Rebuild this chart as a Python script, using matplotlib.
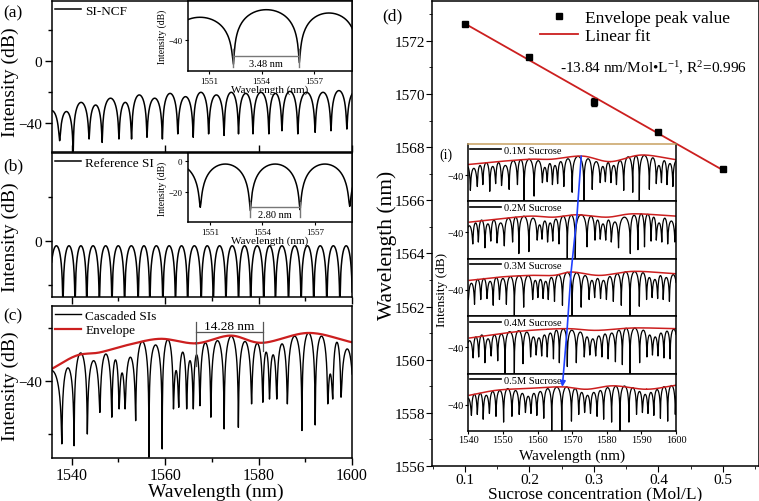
import numpy as np
import matplotlib
matplotlib.use('Agg')
import matplotlib.pyplot as plt
from matplotlib.lines import Line2D
from matplotlib.patches import ConnectionPatch
from matplotlib.ticker import MultipleLocator

plt.rcParams['font.family'] = ['Liberation Serif', 'DejaVu Serif']
plt.rcParams['mathtext.fontset'] = 'custom'
plt.rcParams['mathtext.rm'] = 'Liberation Serif'
plt.rcParams['mathtext.it'] = 'Liberation Serif:italic'
plt.rcParams['axes.linewidth'] = 1.1

# ---------------- data ----------------
# (a) SI-NCF: dip wavelengths, dip levels, peak levels between consecutive dips
a_dip_wl = [1534.0, 1537.4, 1540.3, 1543.7, 1546.5, 1550.1, 1552.8, 1556.1, 1559.4, 1562.7, 1566.0,
            1569.3, 1572.6, 1575.7, 1578.8, 1582.2, 1585.0, 1588.4, 1592.1, 1595.5, 1598.9, 1602.3]
a_dip_db = [-50, -51.4, -60, -50.3, -52.5, -50.3, -50.3, -49.2, -50.3, -47, -49.2,
            -47, -48, -47, -47, -47, -45, -47, -46, -45, -43.9, -45]
a_peak_db = [-32, -32.6, -26.7, -28.4, -24.0, -26.7, -21.9, -24.0, -20.9, -23.0, -20.2,
             -21.9, -20.2, -20.9, -20.2, -20.9, -19.6, -20.2, -20.2, -19.1, -20.0]
# inset of (a)
ai_dip_wl = [1548.6, 1552.40, 1556.14, 1559.5]
ai_dip_db = [-55, -55.5, -54.5, -55]
ai_peak_db = [-25.8, -21.0, -23.1]

# (b) Reference SI
b_dip_wl = [1532.6, 1535.3, 1538.1, 1540.7, 1543.2, 1545.9, 1548.6, 1551.3, 1554.2, 1556.7, 1559.5, 1562.2,
            1564.8, 1567.7, 1570.3, 1573.0, 1575.7, 1578.3, 1581.1, 1583.6, 1586.4, 1589.1,
            1591.8, 1594.6, 1597.4, 1600.1]
b_dip_db = [-30] * len(b_dip_wl)
b_peak_db = [-2.3] * (len(b_dip_wl) - 1)
# inset of (b)
bi_dip_wl = [1547.6, 1550.46, 1553.31, 1556.14, 1558.97, 1561.8]
bi_dip_db = [-30, -29.5, -31.6, -31.0, -28.9, -30]
bi_peak_db = [-2.1, -2.1, -2.1, -2.1, -2.1]

# (c) Cascaded SIs
c_dip_wl = [1533.5, 1537.87, 1540.49, 1543.33, 1546.02, 1548.57, 1550.13, 1551.41, 1553.68, 1556.52,
            1559.36, 1561.77, 1562.90, 1564.60, 1566.02, 1567.44, 1569.78, 1572.62, 1575.67, 1578.50,
            1580.91, 1582.33, 1583.89, 1586.16, 1589.28, 1592.12, 1594.81, 1595.88, 1597.65, 1600.3]
c_dip_db = [-55, -63.6, -64.3, -59.9, -51.8, -53.6, -50.5, -50.5, -54.9, -68.6,
            -65.5, -50.5, -49.9, -50.5, -50.5, -49.3, -53.6, -58.0, -57.4, -48.6,
            -48.0, -46.8, -46.8, -48.6, -58.6, -56.5, -48.6, -46.8, -46.1, -45.5]
c_peak_db = [-36.1, -35.1, -29.5, -32.4, -29.9, -32.1, -37.0, -31.1, -25.2, -26.5,
             -24.5, -36.1, -29.2, -32.4, -30.2, -25.7, -24.9, -23.2, -25.2, -25.9,
             -29.2, -30.2, -26.1, -23.2, -22.0, -23.2, -37.4, -25.5, -28.0]
c_env_wl = [1535.4, 1541.0, 1546.0, 1552.0, 1559.0, 1566.6, 1574.0, 1580.8, 1590.7, 1600.0]
c_env_db = [-35.8, -30.5, -29.3, -26.5, -24.2, -25.9, -23.0, -25.7, -22.0, -25.5]

# (d) envelope peak vs sucrose concentration
conc = [0.1, 0.2, 0.3, 0.4, 0.5]
peak_wl = [1572.63, 1571.41, 1569.69, 1568.56, 1567.16]
peak_err = [0.06, 0.06, 0.15, 0.08, 0.06]
inset_labels = ['0.1M Sucrose', '0.2M Sucrose', '0.3M Sucrose', '0.4M Sucrose', '0.5M Sucrose']

# (i) spectra for each sucrose level
s1_dip_wl = [1538.2, 1540.6, 1542.6, 1544.2, 1546.2, 1547.9, 1549.6, 1551.8, 1554.2, 1556.1, 1559.0, 1561.4,
             1562.8, 1564.3, 1565.8, 1567.6, 1570.0, 1573.4, 1575.8, 1578.1, 1579.6, 1581.2, 1582.8,
             1584.9, 1587.5, 1589.4, 1592.3, 1594.3, 1595.8, 1597.4, 1599.1, 1601.2]
s1_dip_db = [-50, -56, -52, -50, -57, -49, -51, -55, -50, -67.6, -62, -48, -47, -50, -49, -52, -58,
             -67.6, -55, -48, -47, -48, -50, -56, -58, -67.6, -55, -49, -48, -50, -52, -50]
s1_peak_db = [-29, -33, -30, -27, -31, -27, -30, -25, -24, -23.5, -25, -32, -28, -30, -26, -23, -20.5,
              -23, -26, -31, -27, -30, -25, -21, -20, -19.5, -22, -30, -25, -28, -25]
s1_env_wl = [1540, 1548.5, 1557.8, 1564.0, 1572.9, 1581.0, 1590.0, 1600]
s1_env_db = [-29, -26, -23.5, -23.5, -20.2, -26, -19.1, -24.0]

s2_dip_wl = [1537.0, 1539.3, 1541.3, 1542.9, 1544.8, 1546.5, 1548.3, 1550.4, 1552.8, 1554.6, 1557.5, 1559.9,
             1561.3, 1562.9, 1564.4, 1566.2, 1568.6, 1570.9, 1574.3, 1576.6, 1578.1, 1579.7, 1581.3,
             1583.4, 1586.8, 1589.0, 1590.9, 1592.8, 1594.3, 1595.9, 1597.6, 1599.7, 1601.8]
s2_dip_db = [-50, -55, -52, -50, -56, -49, -51, -54, -50, -62, -60, -48, -47, -50, -49, -52, -67.6, -67.6,
             -55, -48, -47, -48, -50, -56, -62, -58, -55, -49, -48, -50, -52, -50, -50]
s2_peak_db = [-30, -33, -30, -27, -31, -27, -30, -25, -24, -23, -25, -32, -28, -30, -26, -23, -22, -21.5,
              -23, -27, -31, -27, -29, -24, -22, -20.5, -21, -24, -30, -25, -28, -24]
s2_env_wl = [1540.3, 1549.2, 1557.8, 1564.6, 1571.3, 1580.0, 1587.7, 1600]
s2_env_db = [-29.2, -25.7, -22.9, -24.0, -21.5, -24.0, -20.5, -22.9]

s3_dip_wl = [1537.8, 1540.0, 1541.8, 1543.6, 1545.4, 1547.2, 1549.0, 1551.0, 1553.3, 1556.0, 1558.6, 1560.1,
             1561.6, 1563.1, 1564.9, 1567.2, 1570.0, 1572.6, 1574.9, 1576.5, 1578.2, 1579.9, 1581.9,
             1584.2, 1586.7, 1589.4, 1591.5, 1593.1, 1594.7, 1596.3, 1598.1, 1600.3]
s3_dip_db = [-52, -50, -55, -50, -49, -56, -50, -55, -67.6, -58, -50, -48, -49, -50, -52, -56, -67.6,
             -58, -50, -48, -49, -50, -52, -56, -67.6, -57, -50, -48, -49, -50, -52, -50]
s3_peak_db = [-31, -33, -29, -28, -31, -27, -28, -26, -25, -25, -30, -29, -31, -27, -24, -21.5, -22,
              -25, -30, -28, -30, -26, -23, -21, -20.8, -22, -27, -29, -25, -27, -24]
s3_env_wl = [1540.3, 1549.2, 1557.8, 1564.6, 1570.0, 1578.0, 1587.7, 1600]
s3_env_db = [-30.0, -26.5, -24.8, -24.8, -21.3, -24.8, -20.6, -23.1]

s4_dip_wl = [1537.2, 1539.3, 1541.4, 1543.0, 1544.8, 1546.6, 1548.5, 1550.6, 1553.3, 1555.8, 1558.0, 1559.6,
             1561.2, 1562.8, 1564.6, 1566.3, 1568.6, 1571.2, 1573.5, 1575.1, 1576.8, 1578.6, 1580.4,
             1582.5, 1584.5, 1586.7, 1589.5, 1591.6, 1593.2, 1594.8, 1596.5, 1598.3, 1600.4]
s4_dip_db = [-50, -55, -51, -50, -56, -49, -54, -67.6, -67.6, -57, -50, -48, -49, -50, -52, -56, -60, -56,
             -50, -48, -49, -50, -52, -55, -58, -67.6, -56, -50, -48, -49, -51, -52, -50]
s4_peak_db = [-31, -33, -29, -27, -31, -27, -26, -23.5, -22.5, -24, -29, -30, -27, -25, -22, -20.6, -22,
              -24, -29, -31, -28, -26, -25, -22, -20, -19.8, -22, -27, -29, -25, -23, -21]
s4_env_wl = [1540.3, 1549.2, 1557.8, 1568.4, 1577.0, 1587.7, 1600]
s4_env_db = [-30.2, -25.7, -22.2, -20.4, -22.2, -19.7, -20.4]

s5_dip_wl = [1536.6, 1538.9, 1540.9, 1542.6, 1544.3, 1546.1, 1548.0, 1550.2, 1552.6, 1554.7, 1556.5, 1558.1,
             1559.8, 1561.8, 1564.1, 1567.0, 1569.8, 1571.9, 1573.6, 1575.3, 1577.2, 1579.1, 1581.4,
             1583.8, 1586.4, 1588.6, 1590.3, 1591.9, 1593.6, 1595.5, 1597.6, 1599.8, 1602.0]
s5_dip_db = [-50, -56, -51, -50, -55, -49, -52, -58, -52, -50, -48, -49, -51, -54, -67.6, -67.6, -57, -50,
             -48, -49, -52, -55, -58, -67.6, -58, -50, -48, -49, -51, -54, -57, -50, -50]
s5_peak_db = [-31, -33, -29, -28, -30, -26, -25, -23, -25, -28, -31, -28, -26, -23, -21.5, -21.2, -23,
              -27, -30, -27, -25, -22, -20.5, -20.3, -22, -26, -29, -27, -24, -21, -19.8, -21]
s5_env_wl = [1540.3, 1548.2, 1556.9, 1567.0, 1574.2, 1581.9, 1591.5, 1600]
s5_env_db = [-30.0, -24.7, -22.9, -21.2, -23.7, -20.1, -23.7, -19.5]

# ---------------- helpers ----------------
W, H = 759, 502


def fax(l, t, r, b):
    return [l / W, 1 - b / H, (r - l) / W, (b - t) / H]


def fringes(dip_wl, dip_db, peak_db, n=80):
    xs, ys = [], []
    for i in range(len(dip_wl) - 1):
        t = np.linspace(0, 1, n)
        s2 = np.sin(np.pi * t) ** 2
        p = peak_db[i]
        e = np.where(t < 0.5, 10 ** ((dip_db[i] - p) / 10), 10 ** ((dip_db[i + 1] - p) / 10))
        xs.append(dip_wl[i] + (dip_wl[i + 1] - dip_wl[i]) * t)
        ys.append(p + 10 * np.log10((1 - e) * s2 + e))
    return np.concatenate(xs), np.concatenate(ys)


def smooth(xk, yk, n=30):
    P = np.column_stack([np.asarray(xk, float), np.asarray(yk, float)])
    P = np.vstack([2 * P[0] - P[1], P, 2 * P[-1] - P[-2]])
    X, Y = [], []
    t = np.linspace(0, 1, n)[:, None]
    for i in range(1, len(P) - 2):
        p0, p1, p2, p3 = P[i - 1], P[i], P[i + 1], P[i + 2]
        c = 0.5 * (2 * p1 + (-p0 + p2) * t + (2 * p0 - 5 * p1 + 4 * p2 - p3) * t ** 2
                   + (-p0 + 3 * p1 - 3 * p2 + p3) * t ** 3)
        X.append(c[:, 0]); Y.append(c[:, 1])
    return np.concatenate(X), np.concatenate(Y)


RED = '#cc1f1f'
fig = plt.figure(figsize=(W / 100, H / 100), dpi=100)


def style_main(ax):
    ax.tick_params(which='both', direction='out', labelsize=11, pad=2)
    ax.tick_params(which='major', length=5, width=1)
    ax.tick_params(which='minor', length=3, width=1)
    ax.set_xlim(1535.7, 1600)
    ax.xaxis.set_major_locator(MultipleLocator(20))
    ax.xaxis.set_minor_locator(MultipleLocator(10))
    ax.yaxis.set_major_locator(MultipleLocator(40))
    ax.yaxis.set_minor_locator(MultipleLocator(20))


LEG = dict(loc='upper left', frameon=False, fontsize=9.5, handlelength=2.0,
           borderaxespad=0.15, borderpad=0.1, handletextpad=0.3, labelspacing=0.2)

# ---- (a)
ax_a = fig.add_axes(fax(51.7, 2, 352, 153))
x, y = fringes(a_dip_wl, a_dip_db, a_peak_db)
ax_a.plot(x, y, color='k', lw=1.1, label='SI-NCF')
style_main(ax_a)
ax_a.set_ylim(-58.7, 38.7)
ax_a.tick_params(axis='x', labelbottom=False, direction='in')
ax_a.legend(**LEG)

ia = fig.add_axes(fax(188, 2, 352, 72))
x, y = fringes(ai_dip_wl, ai_dip_db, ai_peak_db)
ia.plot(x, y, color='k', lw=1.1)
ia.set_xlim(1549.82, 1559.13)
ia.set_ylim(-59.8, -15.5)
ia.set_xticks([1551, 1554, 1557])
ia.set_yticks([-40])
ia.tick_params(labelsize=6.5, length=2.5, direction='out', pad=1.5)
ia.set_xlabel('Wavelength (nm)', fontsize=8, labelpad=0)
ia.set_ylabel('Intensity (dB)', fontsize=7, labelpad=1)
ia.plot([ai_dip_wl[1], ai_dip_wl[2]], [-50.5, -50.5], color='#777777', lw=1)
ia.plot([ai_dip_wl[1]] * 2, [-45.9, -57.5], color='#777777', lw=1)
ia.plot([ai_dip_wl[2]] * 2, [-45.9, -57.5], color='#777777', lw=1)
ia.text((ai_dip_wl[1] + ai_dip_wl[2]) / 2, -54.8, '3.48 nm', ha='center', va='center', fontsize=7.5)

# ---- (b)
ax_b = fig.add_axes(fax(51.7, 154, 352, 298))
x, y = fringes(b_dip_wl, b_dip_db, b_peak_db)
ax_b.plot(x, y, color='k', lw=1.1, label='Reference SI')
style_main(ax_b)
ax_b.set_ylim(-25.6, 39.9)
ax_b.tick_params(axis='x', labelbottom=False)
ax_b.legend(**LEG)

ib = fig.add_axes(fax(188, 154, 352, 223.3))
x, y = fringes(bi_dip_wl, bi_dip_db, bi_peak_db)
ib.plot(x, y, color='k', lw=1.1)
ib.set_xlim(1549.76, 1559.1)
ib.set_ylim(-39, 4.9)
ib.set_xticks([1551, 1554, 1557])
ib.set_yticks([0, -20])
ib.tick_params(labelsize=6.5, length=2.5, direction='out', pad=1.5)
ib.set_xlabel('Wavelength (nm)', fontsize=8, labelpad=0)
ib.set_ylabel('Intensity (dB)', fontsize=7, labelpad=1)
ib.plot([bi_dip_wl[2], bi_dip_wl[3]], [-29.5, -29.5], color='#777777', lw=1)
ib.plot([bi_dip_wl[2]] * 2, [-26.1, -35.6], color='#777777', lw=1)
ib.plot([bi_dip_wl[3]] * 2, [-26.1, -35.6], color='#777777', lw=1)
ib.text((bi_dip_wl[2] + bi_dip_wl[3]) / 2, -34.3, '2.80 nm', ha='center', va='center', fontsize=7.5)

# ---- (c)
ax_c = fig.add_axes(fax(51.7, 307, 352, 459))
x, y = fringes(c_dip_wl, c_dip_db, c_peak_db, n=60)
ax_c.plot(x, y, color='k', lw=1.0, label='Cascaded SIs')
ex, ey = smooth(c_env_wl, c_env_db)
ax_c.plot(ex, ey, color=RED, lw=1.6, label='Envelope')
style_main(ax_c)
ax_c.set_ylim(-68.9, -11.9)
ax_c.tick_params(axis='x', pad=1.5, labelsize=11.5)
ax_c.legend(**LEG)
ax_c.plot([c_env_wl[5], 1581.0], [-21.7, -21.7], color='#555555', lw=0.9)
ax_c.plot([c_env_wl[5]] * 2, [-17.8, -34.3], color='#555555', lw=0.9)
ax_c.plot([1581.0] * 2, [-17.8, -28.6], color='#555555', lw=0.9)
ax_c.text((c_env_wl[5] + 1581.0) / 2, -19.3, '14.28 nm', ha='center', va='center', fontsize=9.5)
fig.text(216 / W, 1 - 492 / H, 'Wavelength (nm)', ha='center', va='center', fontsize=14)

for ytxt, t in [(82, 'Intensity (dB)'), (237, 'Intensity (dB)'), (386, 'Intensity (dB)')]:
    fig.text(10 / W, 1 - ytxt / H, t, rotation=90, ha='center', va='center', fontsize=14)
for ytxt, t in [(13, '(a)'), (166, '(b)'), (316, '(c)')]:
    fig.text(3 / W, 1 - ytxt / H, t, ha='left', va='center', fontsize=12.5)

# ---- (d)
ax_d = fig.add_axes(fax(431.7, 2, 758.5, 467))
ax_d.errorbar(conc, peak_wl, yerr=peak_err, fmt='s', color='k', ms=5, capsize=2, elinewidth=1)
k, b0 = np.polyfit(conc, peak_wl, 1)
xf = np.array([conc[0], conc[-1]])
ax_d.plot(xf, k * xf + b0, color=RED, lw=1.3)
ax_d.set_xlim(0.0485, 0.555)
ax_d.set_ylim(1556, 1573.5)
ax_d.xaxis.set_major_locator(MultipleLocator(0.1))
ax_d.xaxis.set_minor_locator(MultipleLocator(0.05))
ax_d.yaxis.set_major_locator(MultipleLocator(2))
ax_d.yaxis.set_minor_locator(MultipleLocator(1))
ax_d.tick_params(which='both', direction='out', labelsize=11, pad=1)
ax_d.tick_params(which='major', length=4)
ax_d.tick_params(which='minor', length=2.5)
fig.text(595 / W, 1 - 494 / H, 'Sucrose concentration (Mol/L)', ha='center', va='center', fontsize=12.5)
fig.text(387 / W, 1 - 245 / H, 'Wavelength (nm)', rotation=90, ha='center', va='center', fontsize=15.5)
fig.text(382 / W, 1 - 16 / H, '(d)', ha='left', va='center', fontsize=12.5)
handles = [Line2D([], [], marker='s', color='k', ls='none', ms=5),
           Line2D([], [], color=RED, lw=1.3)]
ax_d.legend(handles, ['Envelope peak value', 'Linear fit'], loc='upper right', frameon=False,
            fontsize=12.5, handlelength=2.2, borderaxespad=0.1, labelspacing=0.1,
            handletextpad=0.4, bbox_to_anchor=(1 - 20 / 327, 1.0))
fig.text(560 / W, 1 - 68 / H, '-13.84 nm/Mol\u2022L$^{-1}$, R$^{2}$=0.996', ha='left', va='center',
         fontsize=11)

# ---- (i) inset stacked spectra
spectra = [(s1_dip_wl, s1_dip_db, s1_peak_db, s1_env_wl, s1_env_db),
           (s2_dip_wl, s2_dip_db, s2_peak_db, s2_env_wl, s2_env_db),
           (s3_dip_wl, s3_dip_db, s3_peak_db, s3_env_wl, s3_env_db),
           (s4_dip_wl, s4_dip_db, s4_peak_db, s4_env_wl, s4_env_db),
           (s5_dip_wl, s5_dip_db, s5_peak_db, s5_env_wl, s5_env_db)]
sub_axes, envs = [], []
for i, (dw, dd, pd_, ew, ed) in enumerate(spectra):
    top = 145 + i * 57.46
    axi = fig.add_axes(fax(468.3, top, 676, top + 57.46))
    x, y = fringes(dw, dd, pd_, n=40)
    axi.plot(x, y, color='k', lw=0.9)
    ex, ey = smooth(ew, ed)
    axi.plot(ex, ey, color=RED, lw=1.1)
    envs.append((ex, ey))
    axi.set_xlim(1540, 1600)
    axi.set_ylim(-67.6, -7.6)
    axi.set_yticks([-40])
    axi.xaxis.set_major_locator(MultipleLocator(10))
    axi.tick_params(labelsize=7.5, length=2, direction='out', pad=1)
    if i < 4:
        axi.tick_params(axis='x', labelbottom=False, length=0)
    axi.legend(handles=[Line2D([], [], color='k', lw=1.2)], labels=[inset_labels[i]],
               loc='upper left', frameon=False, fontsize=7.5, handlelength=3,
               borderaxespad=0.05, borderpad=0.1, handletextpad=0.3)
    sub_axes.append(axi)
sub_axes[0].spines['top'].set_color('#c8a060')
fig.text(572 / W, 1 - 456 / H, 'Wavelength (nm)', ha='center', va='center', fontsize=11)
fig.text(441.7 / W, 1 - 290 / H, 'Intensity (dB)', rotation=90, ha='center', va='center', fontsize=9.5)
fig.text(446 / W, 1 - 155 / H, '(i)', ha='center', va='center', fontsize=10)

for i in range(4):
    ya = np.interp(peak_wl[i], *envs[i])
    yb = np.interp(peak_wl[i + 1], *envs[i + 1])
    con = ConnectionPatch(xyA=(peak_wl[i], ya), coordsA=sub_axes[i].transData,
                          xyB=(peak_wl[i + 1], yb), coordsB=sub_axes[i + 1].transData,
                          color='#2040ff', lw=1.2,
                          arrowstyle='-|>' if i == 3 else '-', mutation_scale=8)
    fig.add_artist(con)

fig.savefig('out.png', dpi=100)
